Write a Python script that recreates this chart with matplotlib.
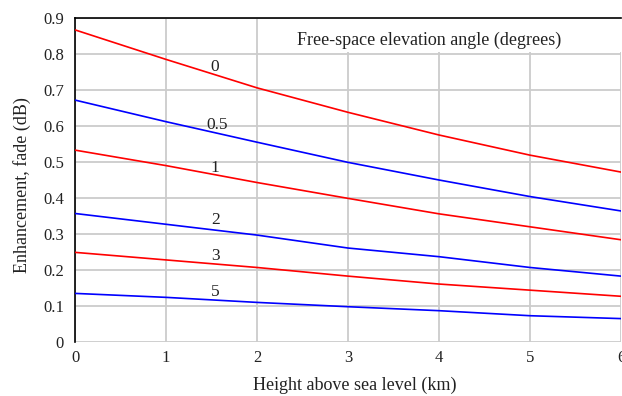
import matplotlib
matplotlib.use("Agg")
import matplotlib.pyplot as plt
from matplotlib.patches import Rectangle

plt.rcParams['font.family'] = ['Liberation Serif', 'DejaVu Serif']

heights = [0, 1, 2, 3, 4, 5, 6]
angle_labels = ["0", "0.5", "1", "2", "3", "5"]
curve_0 = [0.867, 0.785, 0.706, 0.638, 0.575, 0.519, 0.472]
curve_05 = [0.672, 0.612, 0.555, 0.499, 0.450, 0.404, 0.364]
curve_1 = [0.533, 0.490, 0.443, 0.399, 0.356, 0.320, 0.284]
curve_2 = [0.357, 0.327, 0.297, 0.261, 0.237, 0.207, 0.183]
curve_3 = [0.249, 0.228, 0.207, 0.183, 0.161, 0.144, 0.127]
curve_5 = [0.135, 0.124, 0.110, 0.098, 0.087, 0.073, 0.065]
curves = [curve_0, curve_05, curve_1, curve_2, curve_3, curve_5]
colors = ["#ff0000", "#0000ff", "#ff0000", "#0000ff", "#ff0000", "#0000ff"]
label_pos = [(1.53, 0.765), (1.56, 0.604), (1.54, 0.484), (1.54, 0.340), (1.54, 0.240), (1.54, 0.140)]

W, H = 622, 396
fig = plt.figure(figsize=(W / 100, H / 100), dpi=100)
left, right, top, bottom = 75, 621, 18, 342
ax = fig.add_axes([left / W, 1 - bottom / H, (right - left) / W, (bottom - top) / H])

for ys, c in zip(curves, colors):
    ax.plot(heights, ys, color=c, lw=1.2, zorder=3)
for lab, (x, y) in zip(angle_labels, label_pos):
    ax.text(x, y, lab, fontsize=12.5, ha="center", va="center", zorder=4, color="#222222")

ax.set_xlim(0, 6)
ax.set_ylim(0, 0.9)
ax.set_xticks(heights)
ax.set_yticks([0, 0.1, 0.2, 0.3, 0.4, 0.5, 0.6, 0.7, 0.8, 0.9])
ax.set_yticklabels(["0", "0.1", "0.2", "0.3", "0.4", "0.5", "0.6", "0.7", "0.8", "0.9"])
ax.tick_params(length=0, labelsize=12, colors="#222222")
ax.tick_params(axis="y", pad=8)
ax.tick_params(axis="x", pad=6)
ax.grid(True, color="#cccccc", lw=1.3)
ax.set_axisbelow(True)
for s in ["bottom", "right"]:
    ax.spines[s].set_visible(False)
for s in ["left", "top"]:
    ax.spines[s].set_color("black")
    ax.spines[s].set_linewidth(1.2)

ax.add_patch(Rectangle(((290 - left) / (right - left), (bottom - 52) / (bottom - top)),
                       1, 1, transform=ax.transAxes, facecolor="white", edgecolor="none",
                       zorder=1, clip_on=True))
ax.text(3.89, 0.839, "Free-space elevation angle (degrees)", fontsize=13,
        ha="center", va="center", zorder=4, color="#222222")

fig.text(355 / W, 1 - 385 / H, "Height above sea level (km)", fontsize=13,
         ha="center", va="center", color="#222222")
fig.text(22 / W, 1 - 185 / H, "Enhancement, fade (dB)", fontsize=13, rotation=90,
         ha="center", va="center", color="#222222")

fig.savefig("out.png", dpi=100)
